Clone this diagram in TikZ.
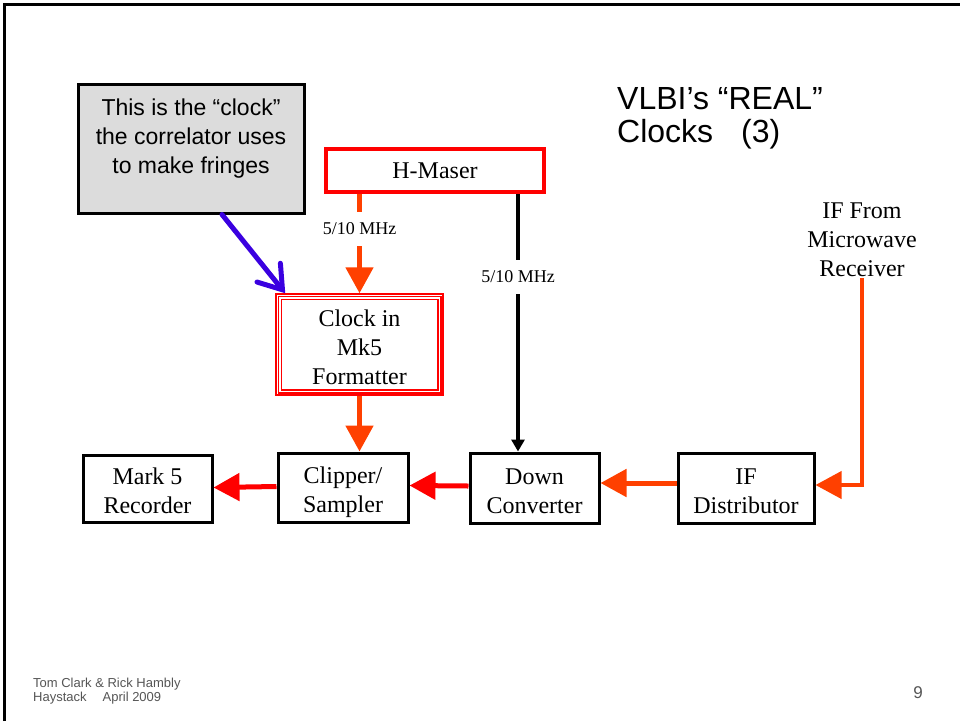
\documentclass[tikz,border=0pt]{standalone}
\usepackage{fontspec}
\setmainfont{Liberation Serif}
\setsansfont{Liberation Sans}
\usetikzlibrary{arrows.meta}

\definecolor{sigorange}{RGB}{255,64,0}
\definecolor{sigred}{RGB}{255,0,0}
\definecolor{noteblue}{RGB}{58,0,224}
\definecolor{notegray}{RGB}{220,220,220}
\definecolor{footgray}{RGB}{85,85,85}

% vertical struts that set where the lines sit inside the blocks
\newcommand{\blocktop}{\rule{0pt}{26pt}}
\newcommand{\blockbot}{\rule[-5pt]{0pt}{0pt}}

\begin{document}
\begin{tikzpicture}[x=1pt, y=-1pt,
  block/.style={draw=black, line width=3pt, fill=white, align=center,
    inner sep=0pt, font=\fontsize{24}{29}\selectfont},
  maserbox/.style={draw=sigred, line width=4pt, fill=white, align=center,
    inner sep=0pt, font=\fontsize{24}{29}\selectfont},
  clockbox/.style={draw=sigred, line width=1.5pt, fill=white, align=center,
    inner sep=0pt, font=\fontsize{24}{29}\selectfont},
  innerframe/.style={draw=sigred, line width=1.5pt},
  plain/.style={align=center, inner sep=1pt, font=\fontsize{24}{29}\selectfont},
  freqlabel/.style={inner xsep=2pt, minimum height=34pt, font=\fontsize{18}{20}\selectfont},
  bigarrow/.style={line width=5pt},
  refarrow/.style={draw=black, line width=4pt},
  notebox/.style={draw=black, line width=3pt, fill=notegray, inner sep=0pt},
  notetext/.style={align=center, inner sep=0pt, font=\sffamily\fontsize{23}{29}\selectfont},
  pointer/.style={draw=noteblue, line width=5pt, line cap=round,
    -{Straight Barb[length=22pt,width=30pt,line cap=round]}},
  titletext/.style={anchor=base west, inner sep=0pt, font=\sffamily\fontsize{32}{33}\selectfont},
  foottext/.style={anchor=base west, inner sep=0pt, text=footgray, font=\sffamily\fontsize{13}{14}\selectfont}
]
% page extent and slide frame
\useasboundingbox (0,0) rectangle (960,721);
\draw[line width=3pt] (4,721) -- (4,4) -- (960,4);

% title
\node[titletext] (titleA) at (617,109.5) {VLBI’s “REAL”};
\node[titletext] (titleB) at (617,142.5) {Clocks\hspace{28pt}(3)};

% call-out note
\node[notebox, minimum width=226pt, minimum height=129pt] (note) at (191,148.5) {};
\node[notetext, anchor=north] (notelines) at ([yshift=-16pt]note.north)
  {This is the “clock”\\the correlator uses\\to make fringes};

% signal chain blocks
\node[maserbox, minimum width=218pt, minimum height=43pt] (maser) at (435,170.5) {H-Maser};
\node[clockbox, minimum width=167pt, minimum height=101pt] (clock) at (359.5,344.5)
  {\blocktop Clock in\\Mk5\\Formatter\blockbot};
\draw[innerframe] ([shift={(3pt,-3pt)}]clock.north west) rectangle ([shift={(-3pt,3pt)}]clock.south east);
\draw[innerframe] ([shift={(6pt,-6pt)}]clock.north west) rectangle ([shift={(-6pt,6pt)}]clock.south east);

\node[block, minimum width=129pt, minimum height=67pt] (rec) at (147.5,488.5) {\blocktop Mark 5\\Recorder\blockbot};
\node[block, minimum width=130pt, minimum height=69pt] (clip) at (343,487.5) {\blocktop Clipper/\\Sampler\blockbot};
\node[block, minimum width=129pt, minimum height=70pt] (down) at (534.5,488) {\blocktop Down\\Converter\blockbot};
\node[block, minimum width=136pt, minimum height=70pt] (ifd) at (746,488) {\blocktop IF\\Distributor\blockbot};

\node[plain] (ifsrc) at (862,240) {IF From\\Microwave\\Receiver};

% reference frequency feeds, each broken by its label
\node[freqlabel] (lblA) at (359.5,229) {5/10 MHz};
\draw[bigarrow, draw=sigorange] (maser.south -| lblA) -- (lblA.north);
\draw[bigarrow, draw=sigorange, -{Triangle[length=26pt,width=27pt,fill=sigorange]}]
  (lblA.south) -- (clock.north);

\node[freqlabel] (lblB) at (518,277) {5/10 MHz};
\draw[refarrow] (maser.south -| lblB) -- (lblB.north);
\draw[refarrow, -{Triangle[length=12pt,width=13pt]}]
  (lblB.south) -- (lblB.south |- down.north);

% clock to sampler
\draw[bigarrow, draw=sigorange, -{Triangle[length=26pt,width=27pt,fill=sigorange]}]
  (clock.south) -- (clock.south |- clip.north);

% IF path
\draw[draw=sigorange, line width=4pt, -{Triangle[length=26pt,width=27pt,fill=sigorange]}]
  (ifsrc.south) |- ([yshift=3pt]ifd.east);
\draw[bigarrow, draw=sigorange, -{Triangle[length=26pt,width=27pt,fill=sigorange]}]
  ([yshift=5pt]ifd.west) -- ([yshift=5pt]down.east);
\draw[bigarrow, draw=sigred, -{Triangle[length=26pt,width=27pt,fill=sigred]}]
  ([yshift=2pt]down.west) -- ([yshift=2pt]clip.east);
\draw[bigarrow, draw=sigred, -{Triangle[length=26pt,width=27pt,fill=sigred]}]
  ([yshift=1pt]clip.west) -- ([yshift=1pt]rec.east);

% pointer from the note
\draw[pointer] ([xshift=31pt]note.south) -- ([shift={(10pt,0pt)}]clock.north west);

% footer
\node[foottext] (footA) at (33,687) {Tom Clark \& Rick Hambly};
\node[foottext] (footB) at (33,701.5) {Haystack\hspace{16pt}April 2009};
\node[anchor=base, inner sep=0pt, text=footgray, font=\sffamily\fontsize{17}{18}\selectfont] (pagenum) at (918,698) {9};
\end{tikzpicture}
\end{document}
